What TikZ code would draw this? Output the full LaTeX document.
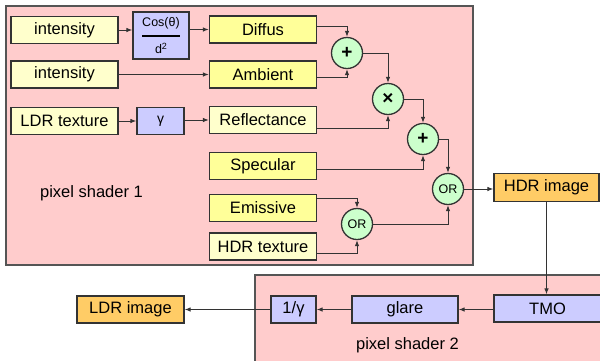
\documentclass[tikz,border=0pt]{standalone}
\usepackage{fontspec}
\usepackage{amsmath}
\setmainfont{Liberation Sans}
\usetikzlibrary{arrows.meta,calc}
\definecolor{panelc}{HTML}{FFCCCC}
\definecolor{panelb}{HTML}{555555}
\definecolor{paley}{HTML}{FFFFCC}
\definecolor{brighty}{HTML}{FFFF99}
\definecolor{lblue}{HTML}{CCCCFF}
\definecolor{lgreen}{HTML}{CCFFCC}
\definecolor{orangec}{HTML}{FFCC66}
\definecolor{linec}{HTML}{333333}
\begin{document}
\begin{tikzpicture}[x=1pt,y=-1pt,
  panel/.style={fill=panelc, draw=panelb, line width=1.2pt},
  box/.style={draw=linec, line width=1.2pt, minimum height=27pt, inner sep=0pt, font=\fontsize{16.5}{18}\selectfont},
  palebox/.style={box, fill=paley, minimum width=107pt},
  brightbox/.style={box, fill=brighty, minimum width=107pt},
  bluebox/.style={box, fill=lblue},
  orangebox/.style={box, fill=orangec},
  opnode/.style={circle, draw=linec, fill=lgreen, minimum size=31pt, inner sep=0pt, line width=1.3pt},
  symop/.style={opnode, font=\fontsize{19}{20}\selectfont\bfseries},
  lbl/.style={inner sep=0pt, font=\fontsize{16.5}{18}\selectfont},
  conn/.style={draw=linec, line width=1pt, -{Latex[length=6pt,width=4.5pt]}}
]
\useasboundingbox (0,0) rectangle (600,360);
\clip (0,0) rectangle (600,360);
% panels
\path[panel] (6,6) rectangle (473,265);
\path[panel] (255,275) rectangle (606,366);
% left column
\node[palebox] (int1) at (64.5,30) {intensity};
\node[palebox] (int2) at (64.5,74.5) {intensity};
\node[palebox] (ldr) at (64.5,121) {LDR texture};
% middle
\node[bluebox, minimum width=56pt, minimum height=47pt, font=\fontsize{12.5}{14}\selectfont] (cos) at (161,35.5)
  {$\genfrac{}{}{2pt}{0}{\text{Cos(θ)}}{\text{d\raisebox{4pt}{\fontsize{9}{10}\selectfont 2}}}$};
\node[bluebox, minimum width=47pt, font=\fontsize{14}{16}\selectfont] (gam) at (160.5,121) {γ};
% right column
\node[brightbox] (diffus) at (263,29.5) {Diffus};
\node[brightbox] (ambient) at (263,74.5) {Ambient};
\node[palebox] (refl) at (263,120) {Reflectance};
\node[brightbox] (spec) at (263,166) {Specular};
\node[brightbox] (emis) at (263,208) {Emissive};
\node[palebox] (hdrtex) at (263,246.5) {HDR texture};
% operators
\node[symop] (plus1) at (347,53) {+};
\node[symop] (times) at (388,99) {×};
\node[symop] (plus2) at (423,139) {+};
\node[opnode, font=\fontsize{12.5}{14}\selectfont] (or1) at (448,189) {OR};
\node[opnode, font=\fontsize{12.5}{14}\selectfont] (or2) at (357,224) {OR};
% outputs
\node[orangebox, minimum width=105pt, minimum height=28pt] (hdrimg) at (546.5,187.5) {HDR image};
\node[bluebox, minimum width=107pt] (tmo) at (547.5,308.5) {TMO};
\node[bluebox, minimum width=106pt] (glare) at (405,309.5) {glare};
\node[bluebox, minimum width=45pt] (invg) at (293.5,309.5) {1/γ};
\node[orangebox, minimum width=107pt] (ldrimg) at (130.5,309.5) {LDR image};
% labels
\node[lbl] (ps1) at (91.5,193) {pixel shader 1};
\node[lbl] (ps2) at (407.5,345) {pixel shader 2};
% connectors
\draw[conn] (int1.east) -- (int1.east -| cos.west);
\draw[conn] (cos.east |- diffus) -- (diffus.west);
\draw[conn] (int2) -- (ambient);
\draw[conn] (ldr) -- (gam);
\draw[conn] (gam.east |- refl) -- (refl.west);
\draw[conn] ([yshift=3pt]diffus.east) -| (plus1.north);
\draw[conn] ([yshift=-3pt]ambient.east) -| (plus1.south);
\draw[conn] (plus1.east) -| (times.north);
\draw[conn] ([yshift=-8pt]refl.east) -| (times.south);
\draw[conn] (times.east) -| (plus2.north);
\draw[conn] ([yshift=-3pt]spec.east) -| (plus2.south);
\draw[conn] (plus2.east) -| (or1.north);
\draw[conn] ([yshift=10pt]emis.east) -| (or2.north);
\draw[conn] ([yshift=-7pt]hdrtex.east) -| (or2.south);
\draw[conn] (or2.east) -| (or1.south);
\draw[conn] (or1.east) -- (or1.east -| hdrimg.west);
\draw[conn] (hdrimg.south) -- (hdrimg.south |- tmo.north);
\draw[conn] (tmo.west |- glare) -- (glare.east);
\draw[conn] (glare) -- (invg);
\draw[conn] (invg) -- (ldrimg);
\end{tikzpicture}
\end{document}
